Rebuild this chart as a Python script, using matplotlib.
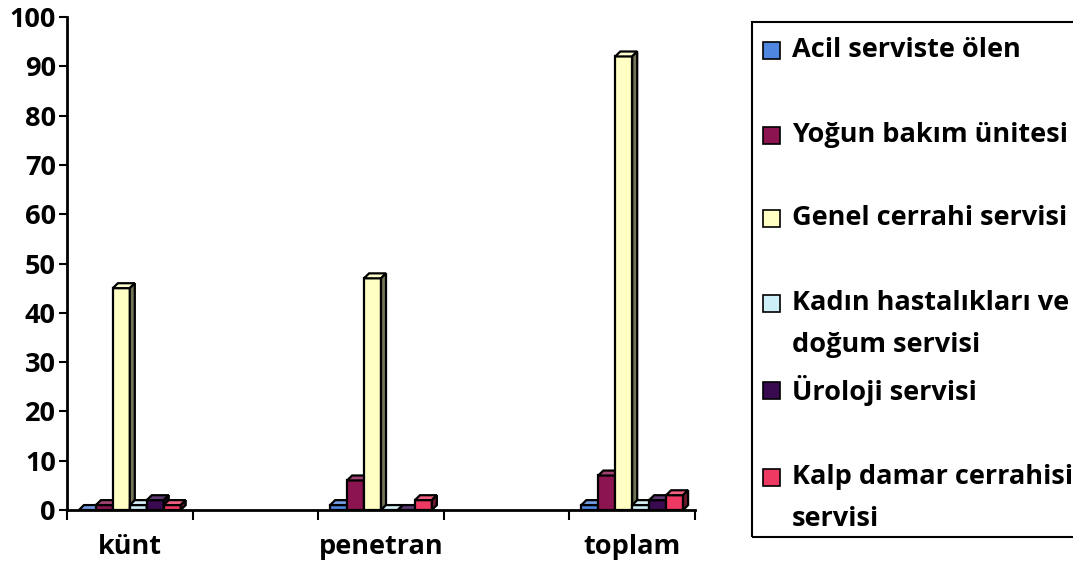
import numpy as np
import matplotlib
matplotlib.use("Agg")
import matplotlib.pyplot as plt
from matplotlib.patches import Polygon, Rectangle
from matplotlib import colors as mcolors

plt.rcParams['font.family'] = ['Open Sans', 'DejaVu Sans']
plt.rcParams['font.weight'] = 'bold'

# veriler
categories = ['künt', 'penetran', 'toplam']
series = ['Acil serviste ölen', 'Yoğun bakım ünitesi', 'Genel cerrahi servisi',
          'Kadın hastalıkları ve\ndoğum servisi', 'Üroloji servisi',
          'Kalp damar cerrahisi\nservisi']
acil = [0, 1, 1]
yogun = [1, 6, 7]
genel = [45, 47, 92]
kadin = [1, 0, 1]
uroloji = [2, 0, 2]
kalp = [1, 2, 3]
renkler = ['#4F86E0', '#8C1450', '#FFFFC4', '#CDEFF8', '#3A0A50', '#EE3A62']

degerler = [acil, yogun, genel, kadin, uroloji, kalp]

fig = plt.figure(figsize=(10.73, 5.68), dpi=100)
W, H = 1073, 568
ax = fig.add_axes([67 / W, 58 / H, 628 / W, 493 / H])

# 3B gorunumlu sutun: on yuz + ust yuz + yan yuz
dx, dy = 0.04, 1.0
slot = 0.135
yazi = 19.5


def shade(c, f):
    r, g, b = mcolors.to_rgb(c)
    return (r * f, g * f, b * f)


def light(c, f):
    r, g, b = mcolors.to_rgb(c)
    return (r + (1 - r) * f, g + (1 - g) * f, b + (1 - b) * f)


def sutun(x, h, c, z):
    ax.add_patch(Rectangle((x, 0), slot, h, fc=c, ec='k', lw=1.6, zorder=z))
    ax.add_patch(Polygon([(x, h), (x + slot, h), (x + slot + dx, h + dy), (x + dx, h + dy)],
                         closed=True, fc=light(c, 0.2), ec='k', lw=1.6, zorder=z))
    ax.add_patch(Polygon([(x + slot, 0), (x + slot + dx, dy), (x + slot + dx, h + dy), (x + slot, h)],
                         closed=True, fc=shade(c, 0.45), ec='k', lw=1.6, zorder=z))


konumlar = [0, 2, 4]
for gi, xc in enumerate(konumlar):
    sol = xc - 3 * slot
    for si, vals in enumerate(degerler):
        sutun(sol + si * slot, vals[gi], renkler[si], 3 + si)

ax.set_xlim(-0.5, 4.5)
ax.set_ylim(0, 100)
ax.spines['top'].set_visible(False)
ax.spines['right'].set_visible(False)
ax.spines['left'].set_linewidth(2)
ax.spines['bottom'].set_linewidth(2)

ax.set_yticks(np.arange(0, 101, 10))
ax.tick_params(axis='y', direction='out', length=6, width=1.5, labelsize=yazi, pad=2)
ax.set_xticks(np.arange(-0.5, 4.6, 1))
ax.set_xticklabels([])
ax.tick_params(axis='x', which='major', direction='out', length=7, width=1.5)
ax.set_xticks(konumlar, minor=True)
ax.set_xticklabels(categories, minor=True)
ax.tick_params(axis='x', which='minor', length=0, labelsize=yazi, pad=17)

# lejant kutusu
fig.add_artist(Rectangle((752 / W, 1 - 537 / H), 340 / W, 515 / H,
                         transform=fig.transFigure, fill=False, ec='k', lw=1.5))
satir_y = [50, 135, 218, 303, 390, 477]
for lbl, c, yp in zip(series, renkler, satir_y):
    fig.add_artist(Rectangle((763 / W, 1 - (yp + 9) / H), 17 / W, 17 / H,
                             transform=fig.transFigure, fc=c, ec='k', lw=1.2))
    for k, parca in enumerate(lbl.split('\n')):
        fig.text(792 / W, 1 - (yp + 42 * k) / H, parca, fontsize=yazi,
                 fontweight='bold', va='center', ha='left')

fig.savefig('out.png', dpi=100)
